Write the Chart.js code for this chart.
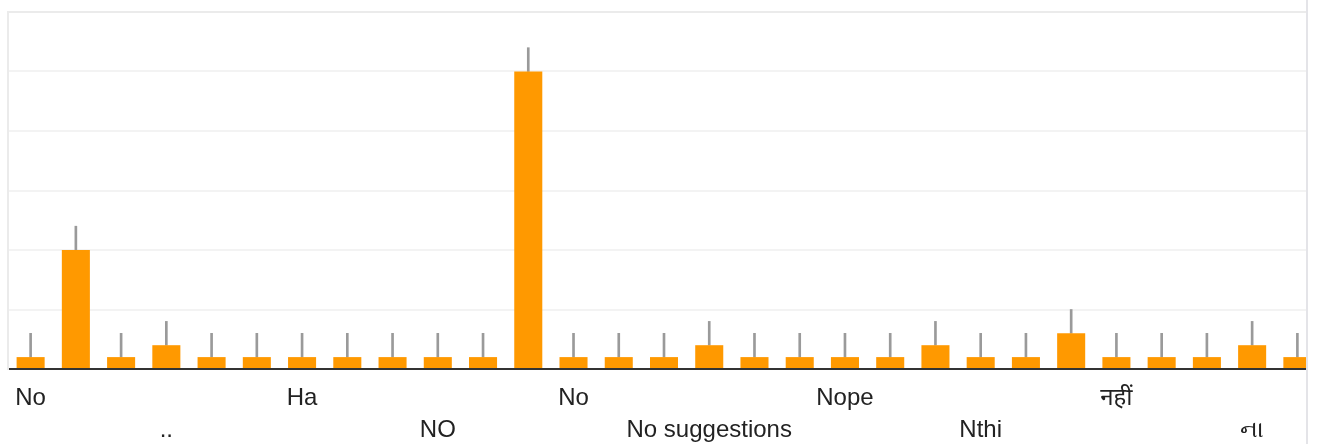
<!DOCTYPE html>
<html>
<head>
<meta charset="utf-8">
<script src="https://cdn.jsdelivr.net/npm/chart.js@4.4.1/dist/chart.umd.min.js"></script>
<style>
  html, body { margin: 0; padding: 0; background: #fff; }
  #clip { position: absolute; left: 0; top: 0; width: 1306px; height: 444px; overflow: hidden; }
  #edge { position: absolute; left: 1306px; top: 0; width: 2px; height: 444px; background: #e4e4e8; }
  #wrap { position: absolute; left: 0; top: 0; width: 1320px; height: 444px; }
</style>
</head>
<body>
<div id="clip"><div id="wrap"><canvas id="c" width="1320" height="444"></canvas></div></div>
<div id="edge"></div>
<script>
// Category labels (only every third label is printed in the reference; unreadable ones left blank)
const categories = [
  "No", "", "", "..", "", "", "Ha", "", "", "NO",
  "", "", "No", "", "", "No suggestions", "", "", "Nope", "",
  "", "Nthi", "", "", "नहीं", "", "", "ના", ""
];
// Response counts per category
const counts = [
  1, 10, 1, 2, 1, 1, 1, 1, 1, 1,
  1, 25, 1, 1, 1, 2, 1, 1, 1, 1,
  2, 1, 1, 3, 1, 1, 1, 2, 1
];
// Value-axis ticks (hidden labels, gridlines only)
const yMin = 0, yMax = 30, yStep = 5;
// Length of the annotation stem above each bar, in value units
const stemLen = 2;

const stems = counts.map(v => [v, v + stemLen]);

const FONT = "'Liberation Sans', Arial, 'Noto Sans', 'DejaVu Sans', sans-serif";

new Chart(document.getElementById('c'), {
  type: 'bar',
  data: {
    labels: categories,
    datasets: [
      {
        label: 'stems',
        data: stems,
        backgroundColor: '#9a9a9a',
        barThickness: 2,
        grouped: false,
        order: 2
      },
      {
        label: 'Responses',
        data: counts,
        backgroundColor: '#ff9900',
        categoryPercentage: 1,
        barPercentage: 0.62,
        grouped: false,
        order: 1
      }
    ]
  },
  options: {
    responsive: false,
    devicePixelRatio: 1,
    animation: false,
    layout: { padding: { top: 12, right: 0, left: 0, bottom: 0 } },
    plugins: { legend: { display: false }, tooltip: { enabled: false } },
    scales: {
      x: {
        grid: { display: false, drawTicks: false },
        border: { display: true, color: '#333333', width: 2 },
        ticks: {
          autoSkip: false,
          maxRotation: 0,
          minRotation: 0,
          padding: 13,
          color: '#222222',
          font: { family: FONT, size: 24, lineHeight: 1.333 },
          callback: function (value, index) {
            const t = categories[index];
            if (index % 3 !== 0) return '';
            return (index / 3) % 2 === 0 ? [t, ''] : ['', t];
          }
        },
        afterFit: s => { s.height = 75; }
      },
      y: {
        min: yMin, max: yMax,
        ticks: { display: false, stepSize: yStep },
        grid: {
          drawTicks: false,
          lineWidth: 2,
          color: ctx => (ctx.tick && ctx.tick.value === yMax) ? '#ebebeb' : '#f3f3f3'
        },
        border: { display: true, color: '#ebebeb', width: 2 },
        afterFit: s => { s.width = 8; }
      }
    }
  }
});
</script>
</body>
</html>
